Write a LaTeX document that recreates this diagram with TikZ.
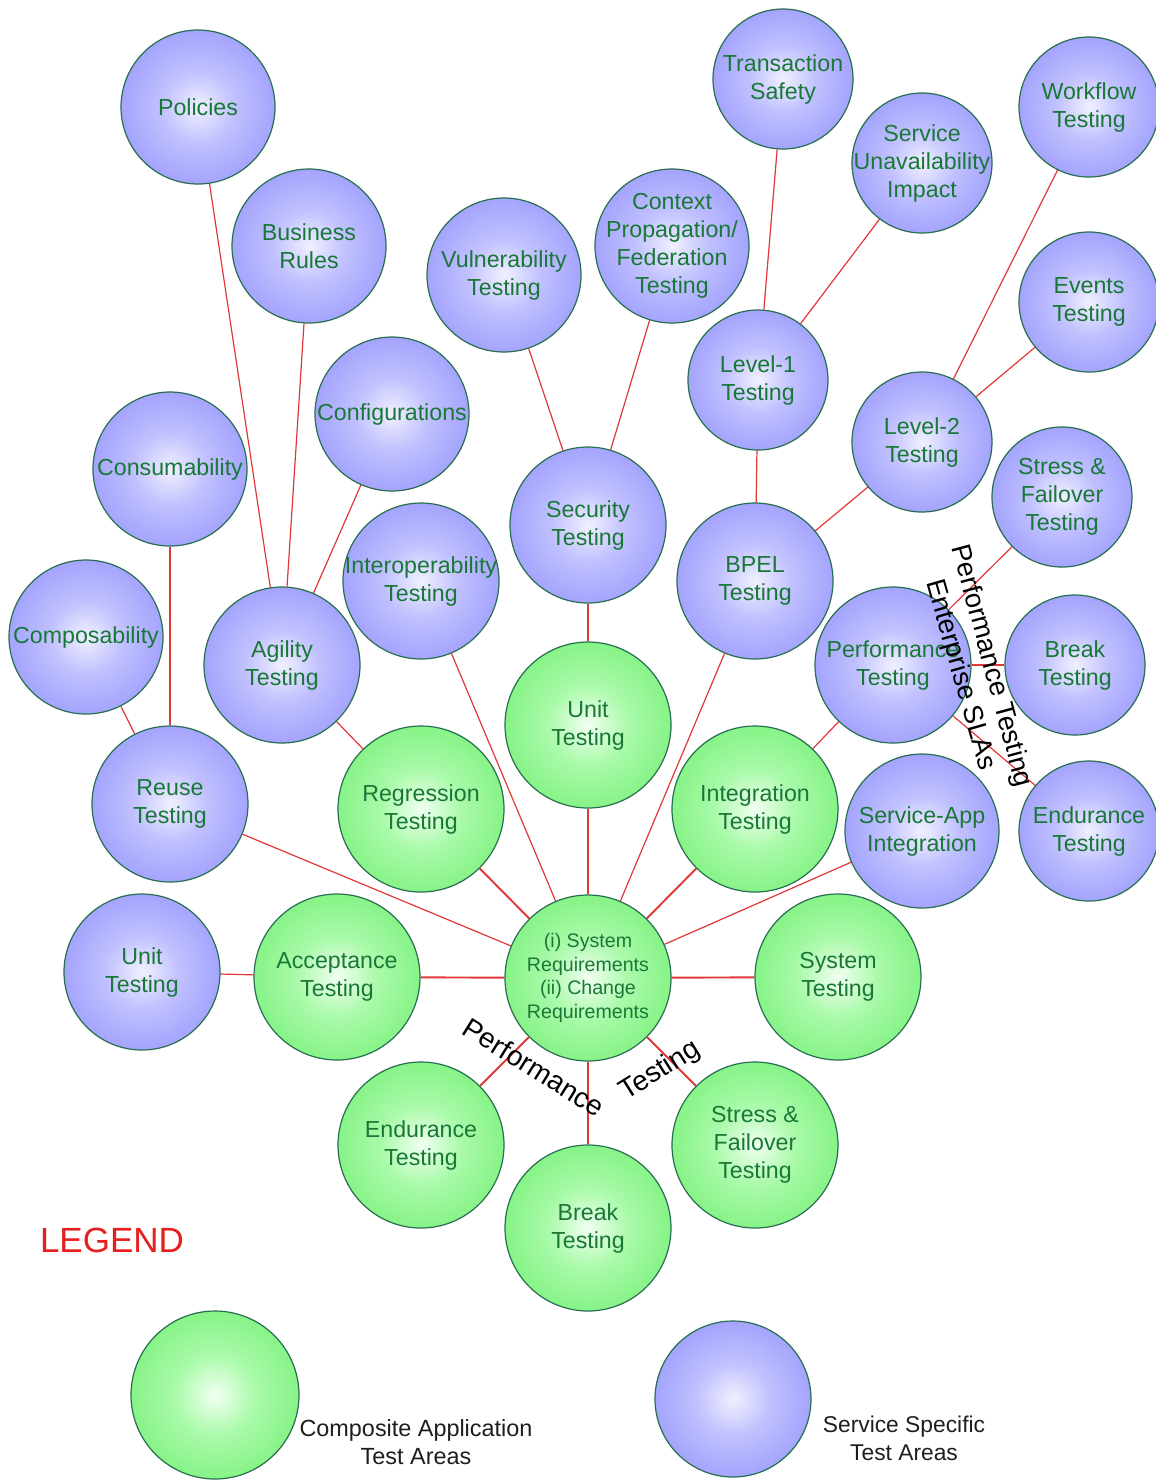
\documentclass[tikz,border=0pt]{standalone}
\usepackage{fontspec}
\setmainfont{Liberation Sans}
\usetikzlibrary{backgrounds}
\definecolor{edgec}{RGB}{40,110,80}
\definecolor{textc}{RGB}{25,120,55}
\definecolor{linec}{RGB}{225,55,55}
\definecolor{bcA}{RGB}{240,240,255}
\definecolor{bcB}{RGB}{192,192,255}
\definecolor{bcC}{RGB}{142,142,252}
\definecolor{bcD}{RGB}{110,110,245}
\definecolor{gcA}{RGB}{242,255,242}
\definecolor{gcB}{RGB}{170,250,170}
\definecolor{gcC}{RGB}{108,238,108}
\definecolor{gcD}{RGB}{72,228,72}
\definecolor{legred}{RGB}{230,30,30}
\pgfdeclareradialshading{bshade}{\pgfpoint{0bp}{0bp}}{color(0bp)=(bcA); color(12bp)=(bcB); color(35bp)=(bcC); color(50bp)=(bcD)}
\pgfdeclareradialshading{gshade}{\pgfpoint{0bp}{0bp}}{color(0bp)=(gcA); color(12bp)=(gcB); color(35bp)=(gcC); color(50bp)=(gcD)}
\tikzset{
  ball/.style={circle, draw=edgec, line width=0.6pt, inner sep=0pt, minimum size=#1pt},
  bnode/.style={ball=#1, shading=bshade},
  gnode/.style={ball=#1, shading=gshade},
  lbl/.style={align=center, text=textc, inner sep=0pt, font=\fontsize{11.6}{14}\selectfont},
  slbl/.style={align=center, text=textc, inner sep=0pt, font=\fontsize{9.8}{11.8}\selectfont},
  rotlbl/.style={inner sep=0pt, text=black, font=\fontsize{14}{16}\selectfont},
  bline/.style={draw=linec, line width=0.6pt},
  gline/.style={draw=linec, line width=0.95pt},
  legtxt/.style={align=center, inner sep=0pt, text={rgb,255:red,30;green,30;blue,30}, font=\fontsize{11.4}{14}\selectfont}
}
\newcommand\BN[5]{\node[bnode=#4, label={[lbl]center:{#5}}] (#1) at (#2,#3) {};}
\newcommand\GN[5]{\node[gnode=#4, label={[lbl]center:{#5}}] (#1) at (#2,#3) {};}
\begin{document}
\begin{tikzpicture}[x=0.5pt,y=-0.5pt]
\useasboundingbox (0,0) rectangle (1156,1480);
% blue nodes
\BN{pol}{198}{107}{77}{Policies}
\BN{bus}{309}{246}{77}{Business\\Rules}
\BN{vul}{504}{275}{77}{Vulnerability\\Testing}
\BN{ctx}{672}{246}{77}{Context\\Propagation/\\Federation\\Testing}
\BN{trs}{783}{79}{70}{Transaction\\Safety}
\BN{sui}{922}{163}{70}{Service\\Unavailability\\Impact}
\BN{wfl}{1089}{107}{70}{Workflow\\Testing}
\BN{evt}{1089}{302}{70}{Events\\Testing}
\BN{lv1}{758}{380}{70}{Level-1\\Testing}
\BN{lv2}{922}{442}{70}{Level-2\\Testing}
\BN{sfb}{1062}{497}{70}{Stress \&\\Failover\\Testing}
\BN{cfg}{392}{414}{77}{Configurations}
\BN{cns}{170}{469}{77}{Consumability}
\BN{sec}{588}{525}{78}{Security\\Testing}
\BN{iop}{421}{581}{78}{Interoperability\\Testing}
\BN{bpl}{755}{581}{78}{BPEL\\Testing}
\BN{cmp}{86}{637}{77}{Composability}
\BN{agi}{282}{665}{78}{Agility\\Testing}
\BN{prf}{893}{665}{78}{Performance\\Testing}
\BN{brb}{1075}{665}{70}{Break\\Testing}
\BN{reu}{170}{804}{78}{Reuse\\Testing}
\BN{sai}{922}{831}{77}{Service-App\\Integration}
\BN{enb}{1089}{831}{70}{Endurance\\Testing}
\BN{unb}{142}{972}{78}{Unit\\Testing}
% green nodes
\GN{ung}{588}{725}{83}{Unit\\Testing}
\GN{reg}{421}{809}{83}{Regression\\Testing}
\GN{int}{755}{809}{83}{Integration\\Testing}
\node[gnode=83, label={[slbl]center:{(i) System\\Requirements\\(ii) Change\\Requirements}}] (ctr) at (588,978) {};
\GN{acc}{337}{977}{83}{Acceptance\\Testing}
\GN{sys}{838}{977}{83}{System\\Testing}
\GN{eng}{421}{1145}{83}{Endurance\\Testing}
\GN{brg}{588}{1228}{83}{Break\\Testing}
\GN{stg}{755}{1145}{83}{Stress \&\\Failover\\Testing}
% connectors
\begin{scope}[on background layer]
\draw[bline] (pol) -- (agi);
\draw[bline] (bus) -- (agi);
\draw[bline] (cfg) -- (agi);
\draw[bline] (cns) -- (reu);
\draw[bline] (cmp) -- (reu);
\draw[bline] (agi) -- (reg);
\draw[bline] (reu) -- (ctr);
\draw[bline] (unb) -- (acc);
\draw[bline] (iop) -- (ctr);
\draw[bline] (vul) -- (sec);
\draw[bline] (ctx) -- (sec);
\draw[bline] (sec) -- (ung);
\draw[bline] (trs) -- (lv1);
\draw[bline] (sui) -- (lv1);
\draw[bline] (lv1) -- (bpl);
\draw[bline] (bpl) -- (ctr);
\draw[bline] (lv2) -- (bpl);
\draw[bline] (wfl) -- (lv2);
\draw[bline] (evt) -- (lv2);
\draw[bline] (sfb) -- (prf);
\draw[bline] (prf) -- (brb);
\draw[bline] (prf) -- (enb);
\draw[bline] (prf) -- (int);
\draw[bline] (sai) -- (ctr);
\draw[gline] (reg) -- (ctr);
\draw[gline] (ung) -- (ctr);
\draw[gline] (int) -- (ctr);
\draw[gline] (acc) -- (ctr);
\draw[gline] (sys) -- (ctr);
\draw[gline] (ctr) -- (eng);
\draw[gline] (ctr) -- (brg);
\draw[gline] (ctr) -- (stg);
\end{scope}
% rotated labels
\node[rotlbl, rotate=-32] (pl1) at (534,1067) {Performance};
\node[rotlbl, rotate=32] (pl2) at (660,1071) {Testing};
\node[rotlbl, rotate=-75, font=\fontsize{13.6}{16}\selectfont] (pl3) at (991,666) {Performance Testing};
\node[rotlbl, rotate=-74, font=\fontsize{13.6}{16}\selectfont] (pl4) at (960,675) {Enterprise SLAs};
% legend
\node[inner sep=0pt, text=legred, font=\fontsize{17.5}{20}\selectfont] (leg) at (112,1240) {LEGEND};
\node[gnode=84] (lg) at (215,1395) {};
\node[bnode=78] (lb) at (733,1399) {};
\node[legtxt, font=\fontsize{11.7}{14}\selectfont] (lgt) at (416,1442) {Composite Application\\Test Areas};
\node[legtxt] (lbt) at (904,1438) {Service Specific\\Test Areas};
\end{tikzpicture}
\end{document}
